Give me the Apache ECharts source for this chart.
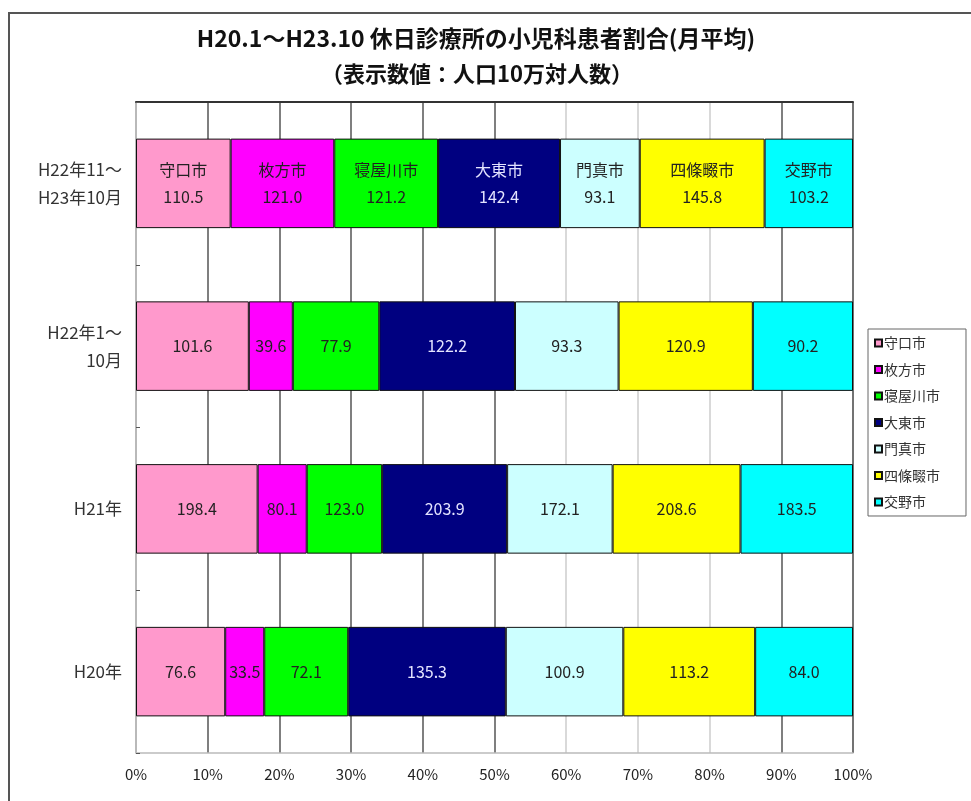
<!DOCTYPE html>
<html>
<head>
<meta charset="utf-8">
<script src="https://cdn.jsdelivr.net/npm/echarts@6/dist/echarts.min.js"></script>
<style>
html,body{margin:0;padding:0;background:#fff;}
#c{width:971px;height:801px;}
</style>
</head>
<body>
<div id="c"></div>
<script>
const categories = ['H20年', 'H21年', 'H22年1～\n10月', 'H22年11～\nH23年10月'];
const cities = ['守口市', '枚方市', '寝屋川市', '大東市', '門真市', '四條畷市', '交野市'];
const cityColors = ['#FF99CC', '#FF00FF', '#00FF00', '#000080', '#CCFFFF', '#FFFF00', '#00FFFF'];
const moriguchi   = [76.6, 198.4, 101.6, 110.5];
const hirakata    = [33.5, 80.1, 39.6, 121.0];
const neyagawa    = [72.1, 123.0, 77.9, 121.2];
const daito       = [135.3, 203.9, 122.2, 142.4];
const kadoma      = [100.9, 172.1, 93.3, 93.1];
const shijonawate = [113.2, 208.6, 120.9, 145.8];
const katano      = [84.0, 183.5, 90.2, 103.2];
const xTicks = [0, 10, 20, 30, 40, 50, 60, 70, 80, 90, 100];

const cityValues = [moriguchi, hirakata, neyagawa, daito, kadoma, shijonawate, katano];
const totals = categories.map((_, i) => cityValues.reduce((s, arr) => s + arr[i], 0));
const FONT = '"Noto Sans CJK JP", "Noto Sans", sans-serif';

const series = cities.map((name, k) => ({
  name: name,
  type: 'bar',
  stack: 'all',
  barWidth: '55%',
  itemStyle: { color: cityColors[k], borderColor: '#111', borderWidth: 1 },
  label: {
    show: true,
    position: 'inside',
    fontFamily: FONT,
    fontSize: 16,
    lineHeight: 27,
    color: k === 3 ? '#E4E4FF' : '#222',
    formatter: p => {
      const raw = cityValues[k][p.dataIndex].toFixed(1);
      return p.dataIndex === 3 ? name + '\n' + raw : raw;
    }
  },
  data: cityValues[k].map((v, i) => v / totals[i] * 100)
}));

const chart = echarts.init(document.getElementById('c'));
chart.setOption({
  backgroundColor: '#fff',
  animation: false,
  title: [
    { text: 'H20.1～H23.10 休日診療所の小児科患者割合(月平均)', left: 471, top: 22, textAlign: 'center',
      textStyle: { fontFamily: FONT, fontSize: 23, fontWeight: 'bold', color: '#111' } },
    { text: '（表示数値：人口10万対人数）', left: 472, top: 58, textAlign: 'center',
      textStyle: { fontFamily: FONT, fontSize: 22, fontWeight: 'bold', color: '#111' } }
  ],
  graphic: [
    { type: 'rect', shape: { x: 9, y: 13, width: 1100, height: 900 }, style: { fill: 'none', stroke: '#555', lineWidth: 2 }, silent: true }
  ],
  legend: {
    orient: 'vertical',
    left: 868,
    top: 329,
    data: cities,
    itemWidth: 7,
    itemHeight: 7,
    itemGap: 12.5,
    padding: [7, 26, 7, 6],
    borderColor: '#666',
    borderWidth: 1,
    backgroundColor: '#fff',
    textStyle: { fontFamily: FONT, fontSize: 14, color: '#333', padding: [0, 0, 0, -3] },
    icon: 'rect'
  },
  grid: { left: 136, right: 118, top: 102, bottom: 48 },
  xAxis: [
    {
      type: 'value',
      min: 0, max: 100, interval: 10,
      position: 'bottom',
      axisLine: { show: true, lineStyle: { color: '#bbb', width: 1.5 } },
      axisTick: { show: false },
      axisLabel: { fontFamily: FONT, fontSize: 15, color: '#222', margin: 14, formatter: v => v + '%' },
      splitLine: { show: true, lineStyle: { color: ['#555','#555','#555','#555','#555','#555','#ccc','#ccc','#ccc','#555','#444'], width: 1.5 } }
    },
    {
      type: 'value',
      min: 0, max: 100, interval: 10,
      position: 'top',
      axisLine: { show: true, onZero: false, lineStyle: { color: '#333', width: 2 } },
      axisTick: { show: false },
      axisLabel: { show: false },
      splitLine: { show: false }
    }
  ],
  yAxis: {
    type: 'category',
    data: categories,
    axisLine: { show: true, lineStyle: { color: '#ccc', width: 1.5 } },
    axisTick: { show: true, inside: true, length: 4, lineStyle: { color: '#555' } },
    axisLabel: { fontFamily: FONT, fontSize: 17, lineHeight: 28, color: '#333', margin: 14 }
  },
  series: series
});
</script>
</body>
</html>
